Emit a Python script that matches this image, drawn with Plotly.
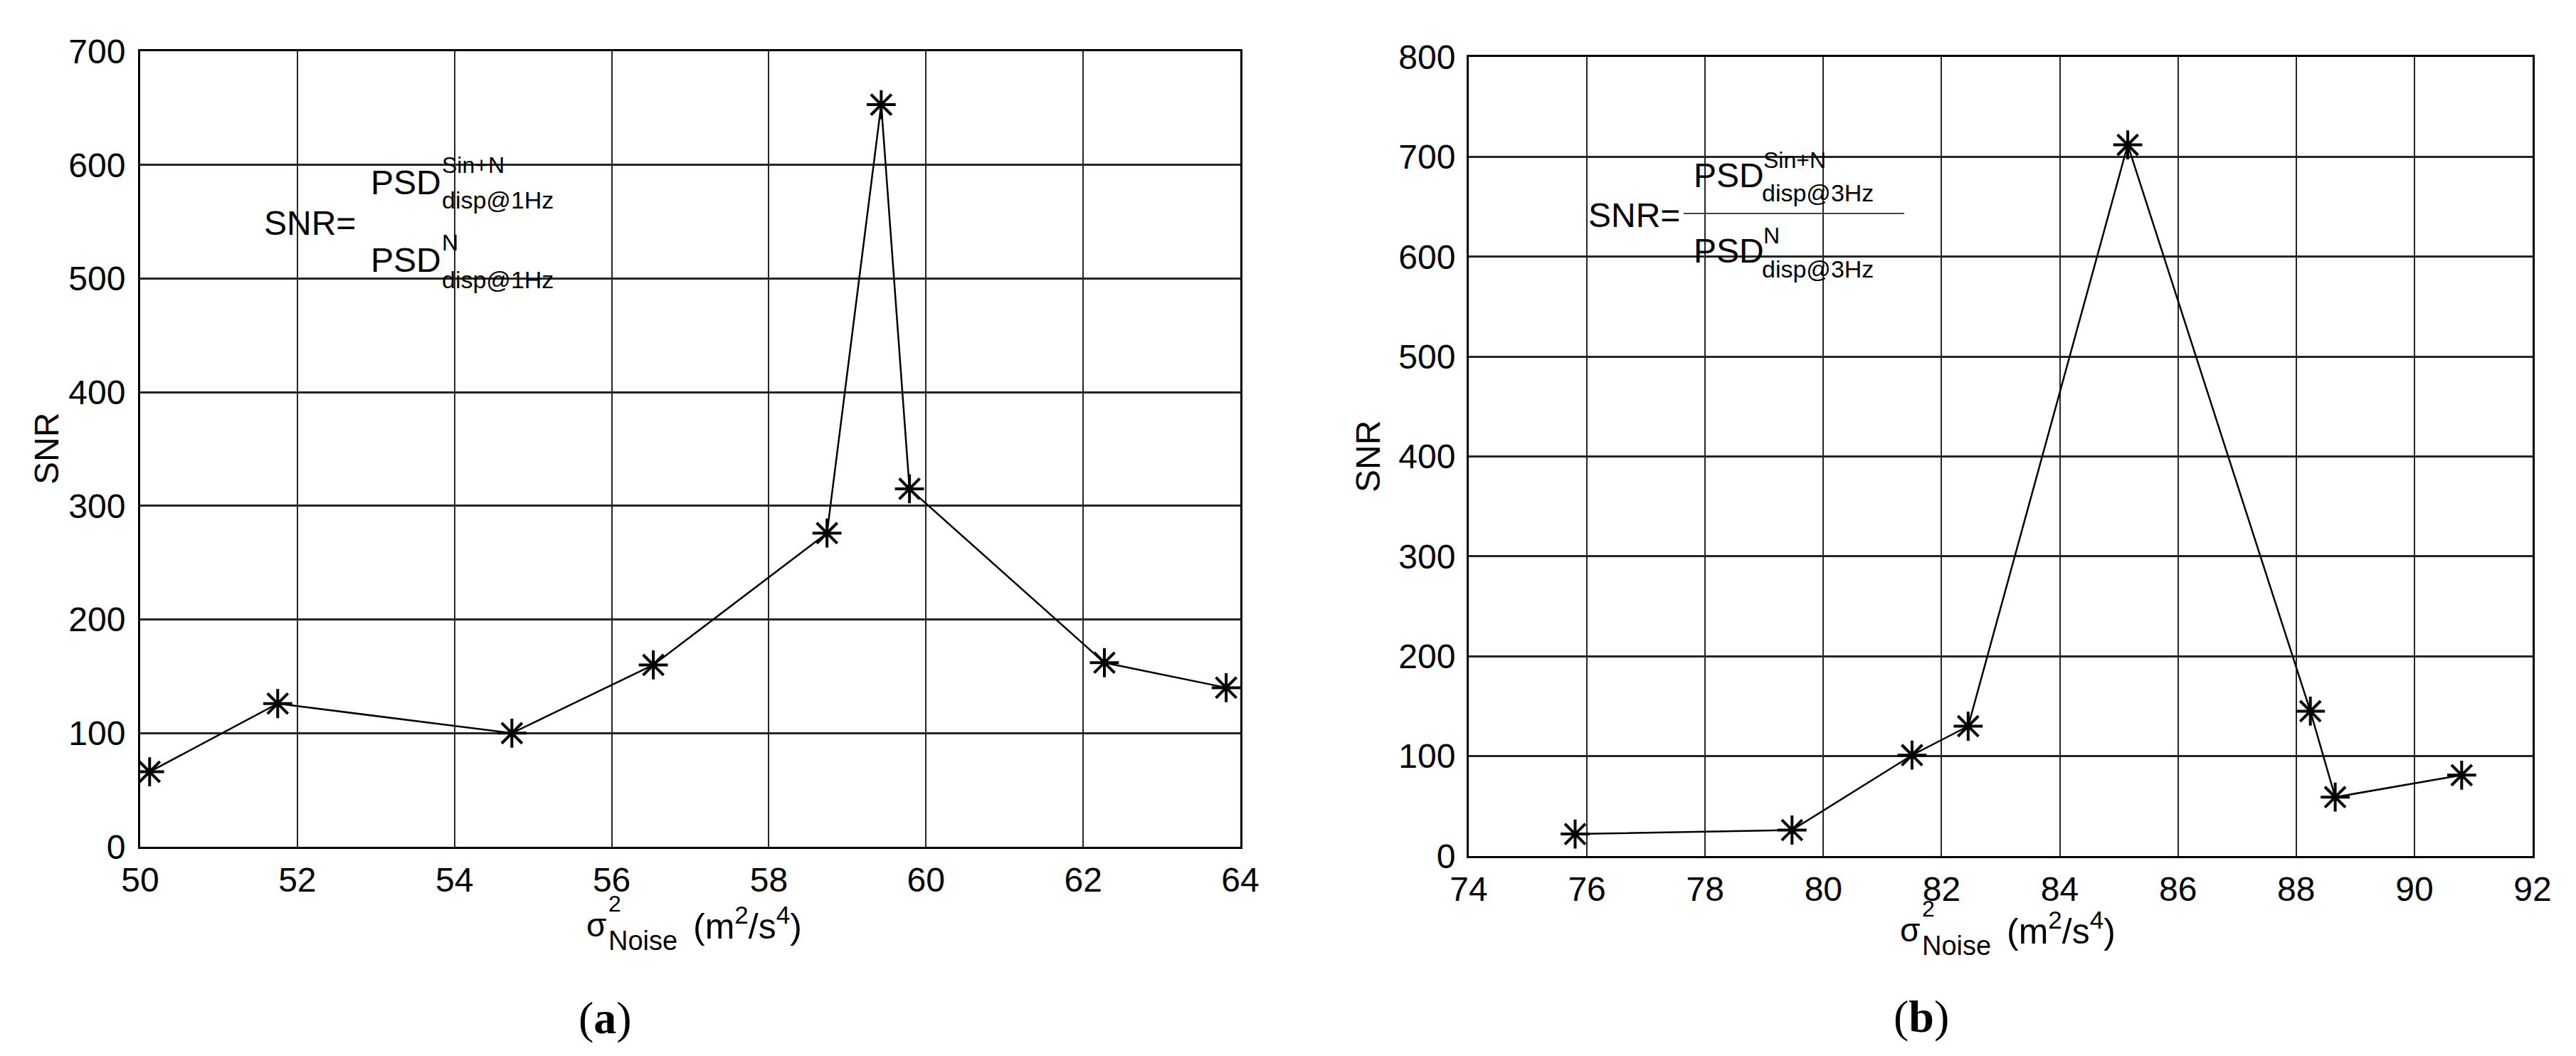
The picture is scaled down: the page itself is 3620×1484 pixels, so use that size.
import plotly.graph_objects as go

# ---------------- data ----------------
noise_a = [50.12, 51.75, 54.73, 56.53, 58.74, 59.43, 59.79, 62.27, 63.82]
snr_a = [66, 126, 100, 160, 276, 653, 315, 162, 140]

noise_b = [75.8, 79.47, 81.5, 82.45, 85.15, 88.24, 88.66, 90.8]
snr_b = [22, 26, 101, 130, 712, 145, 59, 81]

xticks_a = [50, 52, 54, 56, 58, 60, 62, 64]
yticks_a = [0, 100, 200, 300, 400, 500, 600, 700]
xticks_b = [74, 76, 78, 80, 82, 84, 86, 88, 90, 92]
yticks_b = [0, 100, 200, 300, 400, 500, 600, 700, 800]

W, H = 3620, 1484


def px(x):
    return x / W


def py(y):
    return 1 - y / H


FONT = "Liberation Sans, Arial, sans-serif"
SERIF = "Liberation Serif, Times New Roman, serif"

fig = go.Figure()

line_style = dict(color="black", width=2.5)
marker_style = dict(symbol="asterisk-open", size=34, color="black",
                    line=dict(color="black", width=4))

fig.add_trace(go.Scatter(x=noise_a, y=snr_a, mode="lines+markers",
                         line=line_style, marker=marker_style,
                         xaxis="x", yaxis="y", showlegend=False))
fig.add_trace(go.Scatter(x=noise_b, y=snr_b, mode="lines+markers",
                         line=line_style, marker=marker_style,
                         xaxis="x2", yaxis="y2", showlegend=False))

axis_common = dict(
    showline=True, mirror=True, linecolor="black", linewidth=3,
    showgrid=True, gridcolor="#262626", zeroline=False, automargin=False,
    ticks="", tickfont=dict(family=FONT, size=48, color="black"),
)

fig.update_layout(
    template="none",
    width=W, height=H, autosize=False,
    margin=dict(l=0, r=0, t=0, b=0, pad=0),
    paper_bgcolor="white", plot_bgcolor="white", showlegend=False,
    xaxis=dict(domain=[px(197), px(1743)], range=[50, 64], tickvals=xticks_a,
               anchor="y", gridwidth=2, ticklabelstandoff=2, **axis_common),
    yaxis=dict(domain=[py(1190), py(72)], range=[0, 700], tickvals=yticks_a,
               anchor="x", gridwidth=3, ticklabelstandoff=8, **axis_common),
    xaxis2=dict(domain=[px(2064), px(3559)], range=[74, 92], tickvals=xticks_b,
                anchor="y2", gridwidth=2, ticklabelstandoff=2, **axis_common),
    yaxis2=dict(domain=[py(1203), py(80)], range=[0, 800], tickvals=yticks_b,
                anchor="x2", gridwidth=3, ticklabelstandoff=6, **axis_common),
)

annotations = []


def txt(text, x, y, size, xanchor="left", family=FONT, angle=0, color="black"):
    annotations.append(dict(
        text=text, x=px(x), y=py(y), xref="paper", yref="paper",
        xanchor=xanchor, yanchor="middle", showarrow=False, textangle=angle,
        font=dict(family=family, size=size, color=color)))


# y axis titles
txt("SNR", 65, 631, 48, xanchor="center", angle=-90)
txt("SNR", 1922, 642, 48, xanchor="center", angle=-90)

# x axis titles (sigma with stacked super/subscript)
for (sx, sy) in [(822, 1300), (2668, 1307)]:
    txt("σ", sx, sy, 46)
    txt("2", sx + 31, sy - 30, 32)
    txt("Noise", sx + 31, sy + 22, 38)
    txt("(m<sup>2</sup>/s<sup>4</sup>)", sx + 150, sy - 2, 50)

# panel labels
txt("(<b>a</b>)", 850, 1430, 64, xanchor="center", family=SERIF)
txt("(<b>b</b>)", 2700, 1428, 64, xanchor="center", family=SERIF)

# formula (a)
txt("SNR=", 369, 313, 48)
txt("PSD", 519, 256, 48)
txt("Sin+N", 619, 232, 32)
txt("disp@1Hz", 619, 281, 34)
txt("PSD", 519, 365, 48)
txt("N", 619, 341, 32)
txt("disp@1Hz", 619, 393, 34)

# formula (b)
txt("SNR=", 2230, 303, 48)
txt("PSD", 2378, 247, 48)
txt("Sin+N", 2476, 225, 32)
txt("disp@3Hz", 2474, 271, 34)
txt("PSD", 2378, 353, 48)
txt("N", 2476, 331, 32)
txt("disp@3Hz", 2474, 378, 34)

fig.update_layout(annotations=annotations)

fig.add_shape(type="line", xref="paper", yref="paper",
              x0=px(2366), x1=px(2676), y0=py(300), y1=py(300),
              line=dict(color="#444444", width=2))

fig.write_html("out.html", config={"displayModeBar": False},
               post_script="document.body.style.margin='0';")
